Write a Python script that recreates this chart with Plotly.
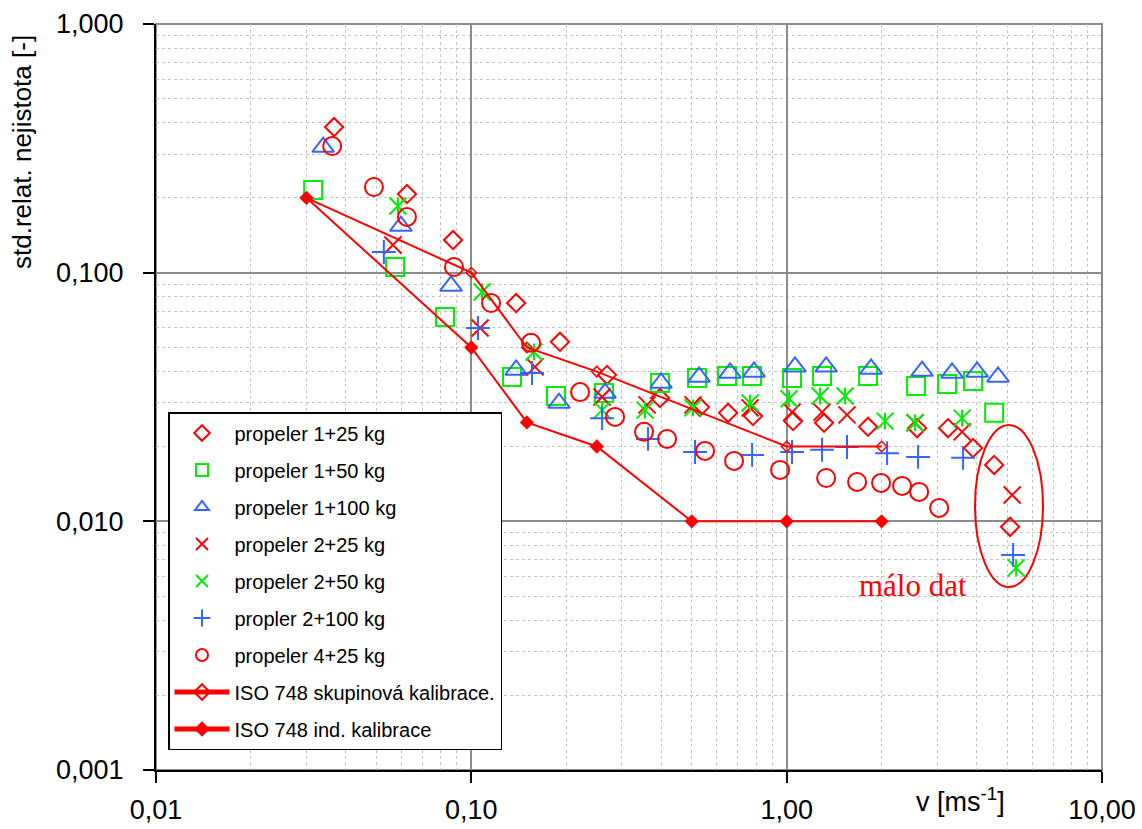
import plotly.graph_objects as go

# ---------------- data ----------------
p1_25_x = [0.0367, 0.0625, 0.0875, 0.1387, 0.191, 0.2694, 0.3967, 0.531, 0.652, 0.782, 1.048, 1.314, 1.812, 2.593, 3.25, 3.90, 4.55, 5.11]
p1_25_y = [0.385, 0.207, 0.1353, 0.0755, 0.0527, 0.0388, 0.0313, 0.0288, 0.0273, 0.0265, 0.0253, 0.0249, 0.0240, 0.0237, 0.0237, 0.0197, 0.01686, 0.0095]

p1_50_x = [0.0315, 0.0573, 0.0825, 0.1346, 0.1856, 0.2636, 0.3967, 0.5196, 0.647, 0.777, 1.040, 1.295, 1.812, 2.573, 3.227, 3.90, 4.55]
p1_50_y = [0.215, 0.1054, 0.0664, 0.0381, 0.0319, 0.0328, 0.0360, 0.0377, 0.0384, 0.0384, 0.0377, 0.0384, 0.0384, 0.0350, 0.0357, 0.0367, 0.0273]

p1_100_x = [0.0339, 0.0598, 0.0862, 0.1387, 0.1897, 0.2655, 0.3996, 0.5276, 0.6613, 0.788, 1.063, 1.334, 1.852, 2.688, 3.346, 4.017, 4.68]
p1_100_y = [0.320, 0.154, 0.0884, 0.0406, 0.0299, 0.0328, 0.0360, 0.0381, 0.0395, 0.0399, 0.0418, 0.0418, 0.0410, 0.0402, 0.0395, 0.0399, 0.0381]

p2_25_x = [0.0564, 0.1066, 0.1592, 0.2598, 0.3608, 0.5047, 0.7655, 1.040, 1.295, 1.554, 2.554, 3.60, 5.19]
p2_25_y = [0.1292, 0.0599, 0.0418, 0.0316, 0.0294, 0.0294, 0.0286, 0.0275, 0.0275, 0.0268, 0.0249, 0.0229, 0.01277]

p2_50_x = [0.0585, 0.1081, 0.158, 0.2598, 0.3555, 0.5047, 0.7655, 1.018, 1.276, 1.532, 2.051, 2.554, 3.60, 5.34]
p2_50_y = [0.1854, 0.0836, 0.0480, 0.0280, 0.0280, 0.0286, 0.0299, 0.0311, 0.0319, 0.0319, 0.0253, 0.0249, 0.0260, 0.0065]

p2_100_x = [0.0528, 0.1050, 0.1558, 0.2598, 0.3634, 0.5123, 0.777, 1.040, 1.295, 1.554, 2.082, 2.611, 3.626, 5.225]
p2_100_y = [0.1211, 0.0599, 0.0395, 0.0260, 0.02145, 0.0190, 0.0185, 0.0190, 0.0194, 0.0199, 0.0188, 0.01815, 0.0180, 0.00733]

p4_25_x = [0.0362, 0.0491, 0.0625, 0.0881, 0.1155, 0.1546, 0.2212, 0.2856, 0.3529, 0.4175, 0.551, 0.681, 0.953, 1.334, 1.672, 1.992, 2.323, 2.63, 3.044]
p4_25_y = [0.323, 0.221, 0.1675, 0.1054, 0.0755, 0.0522, 0.0331, 0.0263, 0.0229, 0.02145, 0.0192, 0.0175, 0.0161, 0.01494, 0.0144, 0.01427, 0.01388, 0.01313, 0.01132]

iso_skup_x = [0.03, 0.1, 0.15, 0.25, 1.0, 2.0]
iso_skup_y = [0.2, 0.1, 0.05, 0.04, 0.02, 0.02]

iso_ind_x = [0.03, 0.1, 0.15, 0.25, 0.5, 1.0, 2.0]
iso_ind_y = [0.2, 0.05, 0.025, 0.02, 0.01, 0.01, 0.01]

x_tickvals = [0.01, 0.1, 1, 10]
x_ticktext = ["0,01", "0,10", "1,00", "10,00"]
y_tickvals = [0.001, 0.01, 0.1, 1]
y_ticktext = ["0,001", "0,010", "0,100", "1,000"]

RED = "#ff0000"
GREEN = "#00ee00"
BLUE = "#3366ff"
FONT = "Liberation Sans, Arial, sans-serif"

fig = go.Figure()

def add(x, y, name, symbol, color, size, group, legend=True):
    fig.add_trace(go.Scatter(
        x=x, y=y, mode="markers", name=name, legendgroup=group, showlegend=legend,
        marker=dict(symbol=symbol, size=size, color=color, line=dict(color=color, width=2)),
    ))

add(p1_25_x, p1_25_y, "propeler 1+25 kg", "diamond-open", RED, 14, "g1")
add(p1_50_x, p1_50_y, "propeler 1+50 kg", "square-open", GREEN, 18, "g2")
add(p1_100_x, p1_100_y, "propeler 1+100 kg", "triangle-up-open", BLUE, 19, "g3")
add(p2_25_x, p2_25_y, "propeler 2+25 kg", "x-thin-open", RED, 17, "g4")
add(p2_50_x, p2_50_y, "propeler 2+50 kg", "x-thin-open", GREEN, 17, "g5")
add(p2_50_x, p2_50_y, "propeler 2+50 kg", "line-ns", GREEN, 12, "g5", legend=False)
add(p2_100_x, p2_100_y, "propler 2+100 kg", "cross-thin-open", BLUE, 17, "g6")
add(p4_25_x, p4_25_y, "propeler 4+25 kg", "circle-open", RED, 18, "g7")

fig.add_trace(go.Scatter(
    x=iso_skup_x, y=iso_skup_y, mode="lines+markers", name="ISO 748 skupinová kalibrace.",
    legendgroup="g8", line=dict(color=RED, width=2),
    marker=dict(symbol="diamond-open", size=8, color=RED, line=dict(color=RED, width=1.5)),
))
fig.add_trace(go.Scatter(
    x=iso_ind_x, y=iso_ind_y, mode="lines+markers", name="ISO 748 ind. kalibrace",
    legendgroup="g9", line=dict(color=RED, width=2),
    marker=dict(symbol="diamond", size=11, color=RED),
))

# plot-area geometry (pixels) for decorations
L, R, T, B = 156, 1102, 24, 770
def px(x):
    return (x - L) / (R - L)
def py(y):
    return (B - y) / (B - T)

axis_common = dict(
    type="log", automargin=False, showgrid=True, gridcolor="#8c8c8c", gridwidth=1.5,
    minor=dict(dtick="D1", showgrid=True, gridcolor="#c4c4c4", griddash="dot", gridwidth=1, ticks=""),
    ticks="outside", ticklen=11, tickwidth=2, tickcolor="black",
    showline=True, linecolor="black", linewidth=2, zeroline=False,
    tickfont=dict(family=FONT, size=27, color="black"),
    tickmode="array",
)

fig.update_xaxes(range=[-2, 1], tickvals=x_tickvals, ticktext=x_ticktext, ticklabelstandoff=4, **axis_common)
fig.update_yaxes(range=[-3, 0], tickvals=y_tickvals, ticktext=y_ticktext, ticklabelstandoff=14, **axis_common)

fig.update_layout(
    width=1142, height=829, autosize=False,
    margin=dict(l=L, r=1142 - R, t=T, b=829 - B, pad=0, autoexpand=False),
    paper_bgcolor="white", plot_bgcolor="white",
    font=dict(family=FONT, color="black"),
    legend=dict(
        x=px(168), y=py(412), xanchor="left", yanchor="top",
        bgcolor="white", bordercolor="black", borderwidth=1.5,
        font=dict(family=FONT, size=20, color="black"),
        itemsizing="constant", tracegroupgap=8, itemwidth=55,
    ),
    shapes=[
        dict(type="rect", xref="paper", yref="paper", x0=0, x1=1, y0=0, y1=1,
             line=dict(color="#8c8c8c", width=2), layer="below"),
        dict(type="circle", xref="paper", yref="paper",
             x0=px(975), x1=px(1043), y0=py(587), y1=py(425),
             line=dict(color=RED, width=2)),
    ],
    annotations=[
        dict(text="málo dat", xref="paper", yref="paper", x=px(913), y=py(585),
             xanchor="center", yanchor="middle", showarrow=False,
             font=dict(family="Liberation Serif, Times New Roman, serif", size=31, color=RED)),
        dict(text="v [ms<sup>-1</sup>]", xref="paper", yref="paper", x=px(960), y=py(800),
             xanchor="center", yanchor="middle", showarrow=False,
             font=dict(family=FONT, size=27, color="black")),
        dict(text="std.relat. nejistota [-]", xref="paper", yref="paper", x=px(22), y=py(152),
             xanchor="center", yanchor="middle", textangle=-90, showarrow=False,
             font=dict(family=FONT, size=26, color="black")),
    ],
)

fig.write_html("out.html")
